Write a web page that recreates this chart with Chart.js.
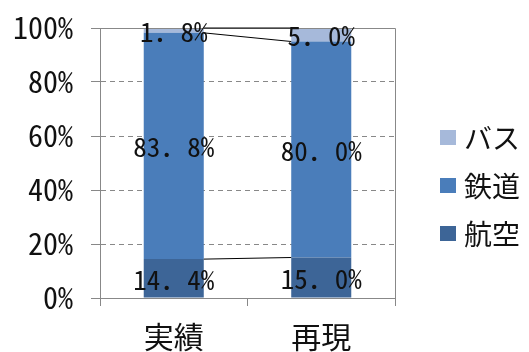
<!DOCTYPE html>
<html><head><meta charset="utf-8">
<script src="https://cdn.jsdelivr.net/npm/chart.js@4/dist/chart.umd.min.js"></script>
<style>html,body{margin:0;padding:0;background:#fff}#wrap{width:529px;height:352px;position:relative}</style>
</head><body><div id="wrap"><canvas id="c" width="529" height="352"></canvas></div>
<script>
const categories = ['実績', '再現'];
const seriesNames = ['航空', '鉄道', 'バス'];
const airValues = [14.4, 15.0];
const railValues = [83.8, 80.0];
const busValues = [1.8, 5.0];
const yTickValues = [0, 20, 40, 60, 80, 100];
const seriesColors = ['#3D6597', '#4A7DBA', '#A6B9DA'];

const FONT = '"Noto Sans Mono CJK JP", "Noto Sans CJK JP", monospace';
const GRID = '#888888';

function fmtLabel(v) {
  return v.toFixed(1).replace('.', '．') + '%';
}

const overlay = {
  id: 'overlay',
  afterDatasetsDraw(chart) {
    const ctx = chart.ctx;
    const a = chart.chartArea;
    // plot frame
    ctx.save();
    ctx.strokeStyle = GRID;
    ctx.lineWidth = 1;
    ctx.beginPath();
    ctx.moveTo(a.left, Math.round(a.top) + 0.5);
    ctx.lineTo(Math.round(a.right) + 0.5, Math.round(a.top) + 0.5);
    ctx.lineTo(Math.round(a.right) + 0.5, a.bottom);
    ctx.stroke();
    // series lines
    ctx.strokeStyle = '#000';
    chart.data.datasets.forEach((ds, k) => {
      const meta = chart.getDatasetMeta(k);
      const b0 = meta.data[0], b1 = meta.data[1];
      ctx.beginPath();
      ctx.moveTo(b0.x + b0.width / 2, b0.y);
      ctx.lineTo(b1.x - b1.width / 2, b1.y);
      ctx.stroke();
    });
    // data labels
    ctx.fillStyle = '#111';
    ctx.font = '27px ' + FONT;
    ctx.textAlign = 'center';
    ctx.textBaseline = 'middle';
    chart.data.datasets.forEach((ds, k) => {
      const meta = chart.getDatasetMeta(k);
      meta.data.forEach((el, i) => {
        const yc = (el.y + el.base) / 2;
        ctx.fillText(fmtLabel(ds.data[i]), el.x, yc + 1);
      });
    });
    // legend (reverse order)
    const n = chart.data.datasets.length;
    const lx = a.right + 45;
    const centers = [137, 185, 233];
    ctx.font = '28px ' + FONT;
    ctx.textAlign = 'left';
    for (let j = 0; j < n; j++) {
      const ds = chart.data.datasets[n - 1 - j];
      const cy = centers[j];
      ctx.fillStyle = ds.backgroundColor;
      ctx.fillRect(lx, cy - 7, 16, 15);
      ctx.fillStyle = '#111';
      ctx.fillText(ds.label, lx + 24, cy + 1);
    }
    ctx.restore();
  }
};

new Chart(document.getElementById('c'), {
  type: 'bar',
  data: {
    labels: categories,
    datasets: [
      { label: seriesNames[0], data: airValues, backgroundColor: seriesColors[0] },
      { label: seriesNames[1], data: railValues, backgroundColor: seriesColors[1] },
      { label: seriesNames[2], data: busValues, backgroundColor: seriesColors[2] }
    ]
  },
  options: {
    responsive: false,
    animation: false,
    devicePixelRatio: 1,
    layout: { padding: { left: 0, right: 134, top: 28, bottom: 0 } },
    datasets: { bar: { barPercentage: 0.407, categoryPercentage: 1.0, borderWidth: 0 } },
    plugins: { legend: { display: false }, tooltip: { enabled: false } },
    scales: {
      x: {
        stacked: true,
        offset: true,
        grid: { display: true, drawOnChartArea: false, drawTicks: true, offset: true, tickLength: 8, color: GRID, tickColor: GRID },
        border: { display: true, color: GRID, width: 1 },
        ticks: { color: '#111', font: { family: FONT, size: 30 }, padding: 13 },
        afterFit(scale) { scale.height = 54; scale.paddingLeft = 0; scale.paddingRight = 0; }
      },
      y: {
        stacked: true,
        min: 0,
        max: 100,
        afterBuildTicks(scale) { scale.ticks = yTickValues.map(v => ({ value: v })); },
        grid: { color: GRID, tickColor: GRID, tickLength: 9, drawTicks: true },
        border: { display: true, color: GRID, width: 1, dash: [5, 4] },
        ticks: { color: '#111', font: { family: FONT, size: 30 }, padding: 18, callback: v => v + '%' },
        afterFit(scale) { scale.width = 100; scale.paddingTop = 0; scale.paddingBottom = 0; }
      }
    }
  },
  plugins: [overlay]
});
</script>
</body></html>
